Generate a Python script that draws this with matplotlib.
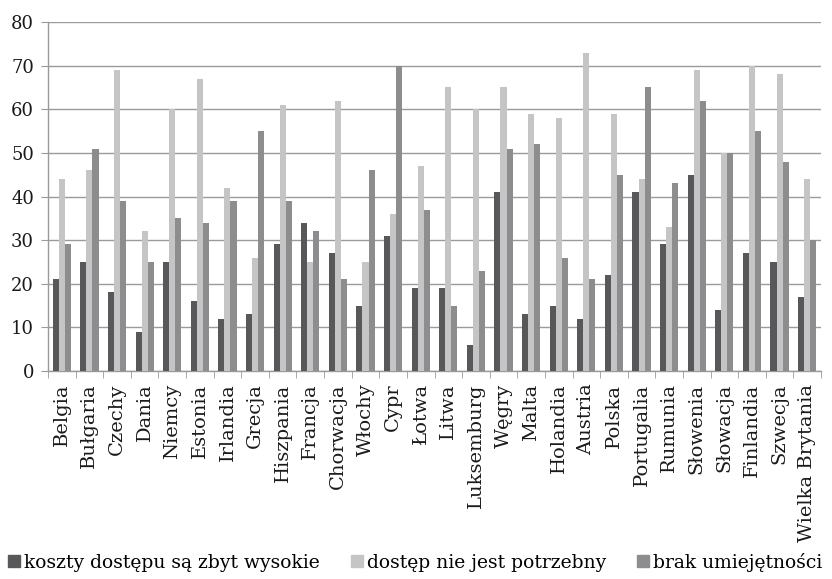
import matplotlib
matplotlib.use("Agg")
import matplotlib.pyplot as plt
from matplotlib.lines import Line2D
import numpy as np

countries = ["Belgia", "Bułgaria", "Czechy", "Dania", "Niemcy", "Estonia", "Irlandia",
             "Grecja", "Hiszpania", "Francja", "Chorwacja", "Włochy", "Cypr", "Łotwa",
             "Litwa", "Luksemburg", "Węgry", "Malta", "Holandia", "Austria", "Polska",
             "Portugalia", "Rumunia", "Słowenia", "Słowacja", "Finlandia", "Szwecja",
             "Wielka Brytania"]
koszty = [21, 25, 18, 9, 25, 16, 12, 13, 29, 34, 27, 15, 31, 19, 19, 6, 41, 13, 15, 12,
          22, 41, 29, 45, 14, 27, 25, 17]
niepotrzebny = [44, 46, 69, 32, 60, 67, 42, 26, 61, 25, 62, 25, 36, 47, 65, 60, 65, 59,
                58, 73, 59, 44, 33, 69, 50, 70, 68, 44]
brak = [29, 51, 39, 25, 35, 34, 39, 55, 39, 32, 21, 46, 70, 37, 15, 23, 51, 52, 26, 21,
        45, 65, 43, 62, 50, 55, 48, 30]
series_names = ["koszty dostępu są zbyt wysokie", "dostęp nie jest potrzebny",
                "brak umiejętności"]
yticks = [0, 10, 20, 30, 40, 50, 60, 70, 80]

colors = ["#58585a", "#c5c5c6", "#8d8d90"]
grid_c = "#9a9a9a"

fig = plt.figure(figsize=(8.32, 5.79), dpi=100)
ax = fig.add_axes([48/832, 1 - 371/579, (821 - 48)/832, (371 - 22)/579])

x = np.arange(len(countries))
w = 0.22
for i, (vals, c) in enumerate(zip([koszty, niepotrzebny, brak], colors)):
    ax.bar(x + (i - 1) * w, vals, width=w, color=c, zorder=3, linewidth=0)

ax.set_xlim(-0.5, len(countries) - 0.5)
ax.set_ylim(0, 80)
ax.set_yticks(yticks)
ax.yaxis.grid(True, color=grid_c, linewidth=1.0, zorder=0)
ax.set_axisbelow(True)
for s in ["top", "right"]:
    ax.spines[s].set_visible(False)
for s in ["left", "bottom"]:
    ax.spines[s].set_color(grid_c)
    ax.spines[s].set_linewidth(1.0)

ax.set_xticks(x)
ax.set_xticklabels(countries, rotation=90, fontfamily="DejaVu Serif", fontsize=14,
                   color="#1a1a1a")
ax.tick_params(axis="x", length=0, pad=9)
ax.set_xticks(np.arange(-0.5, len(countries), 1.0), minor=True)
ax.tick_params(axis="x", which="minor", length=5, color=grid_c, direction="out")
ax.tick_params(axis="y", length=5, color=grid_c, labelsize=13, pad=5, labelcolor="#1a1a1a")
for lab in ax.get_yticklabels():
    lab.set_fontfamily("DejaVu Serif")

handles = [Line2D([0], [0], marker="s", linestyle="none", markersize=8,
                  markerfacecolor=c, markeredgecolor=c) for c in colors]
fig.legend(handles, series_names, loc="lower center", bbox_to_anchor=(0.5, -0.01),
           ncol=3, frameon=False, handlelength=0.5, handletextpad=0.3,
           columnspacing=1.7, borderaxespad=0.3,
           prop={"family": "DejaVu Serif", "size": 13.5})

fig.savefig("out.png", dpi=100)
